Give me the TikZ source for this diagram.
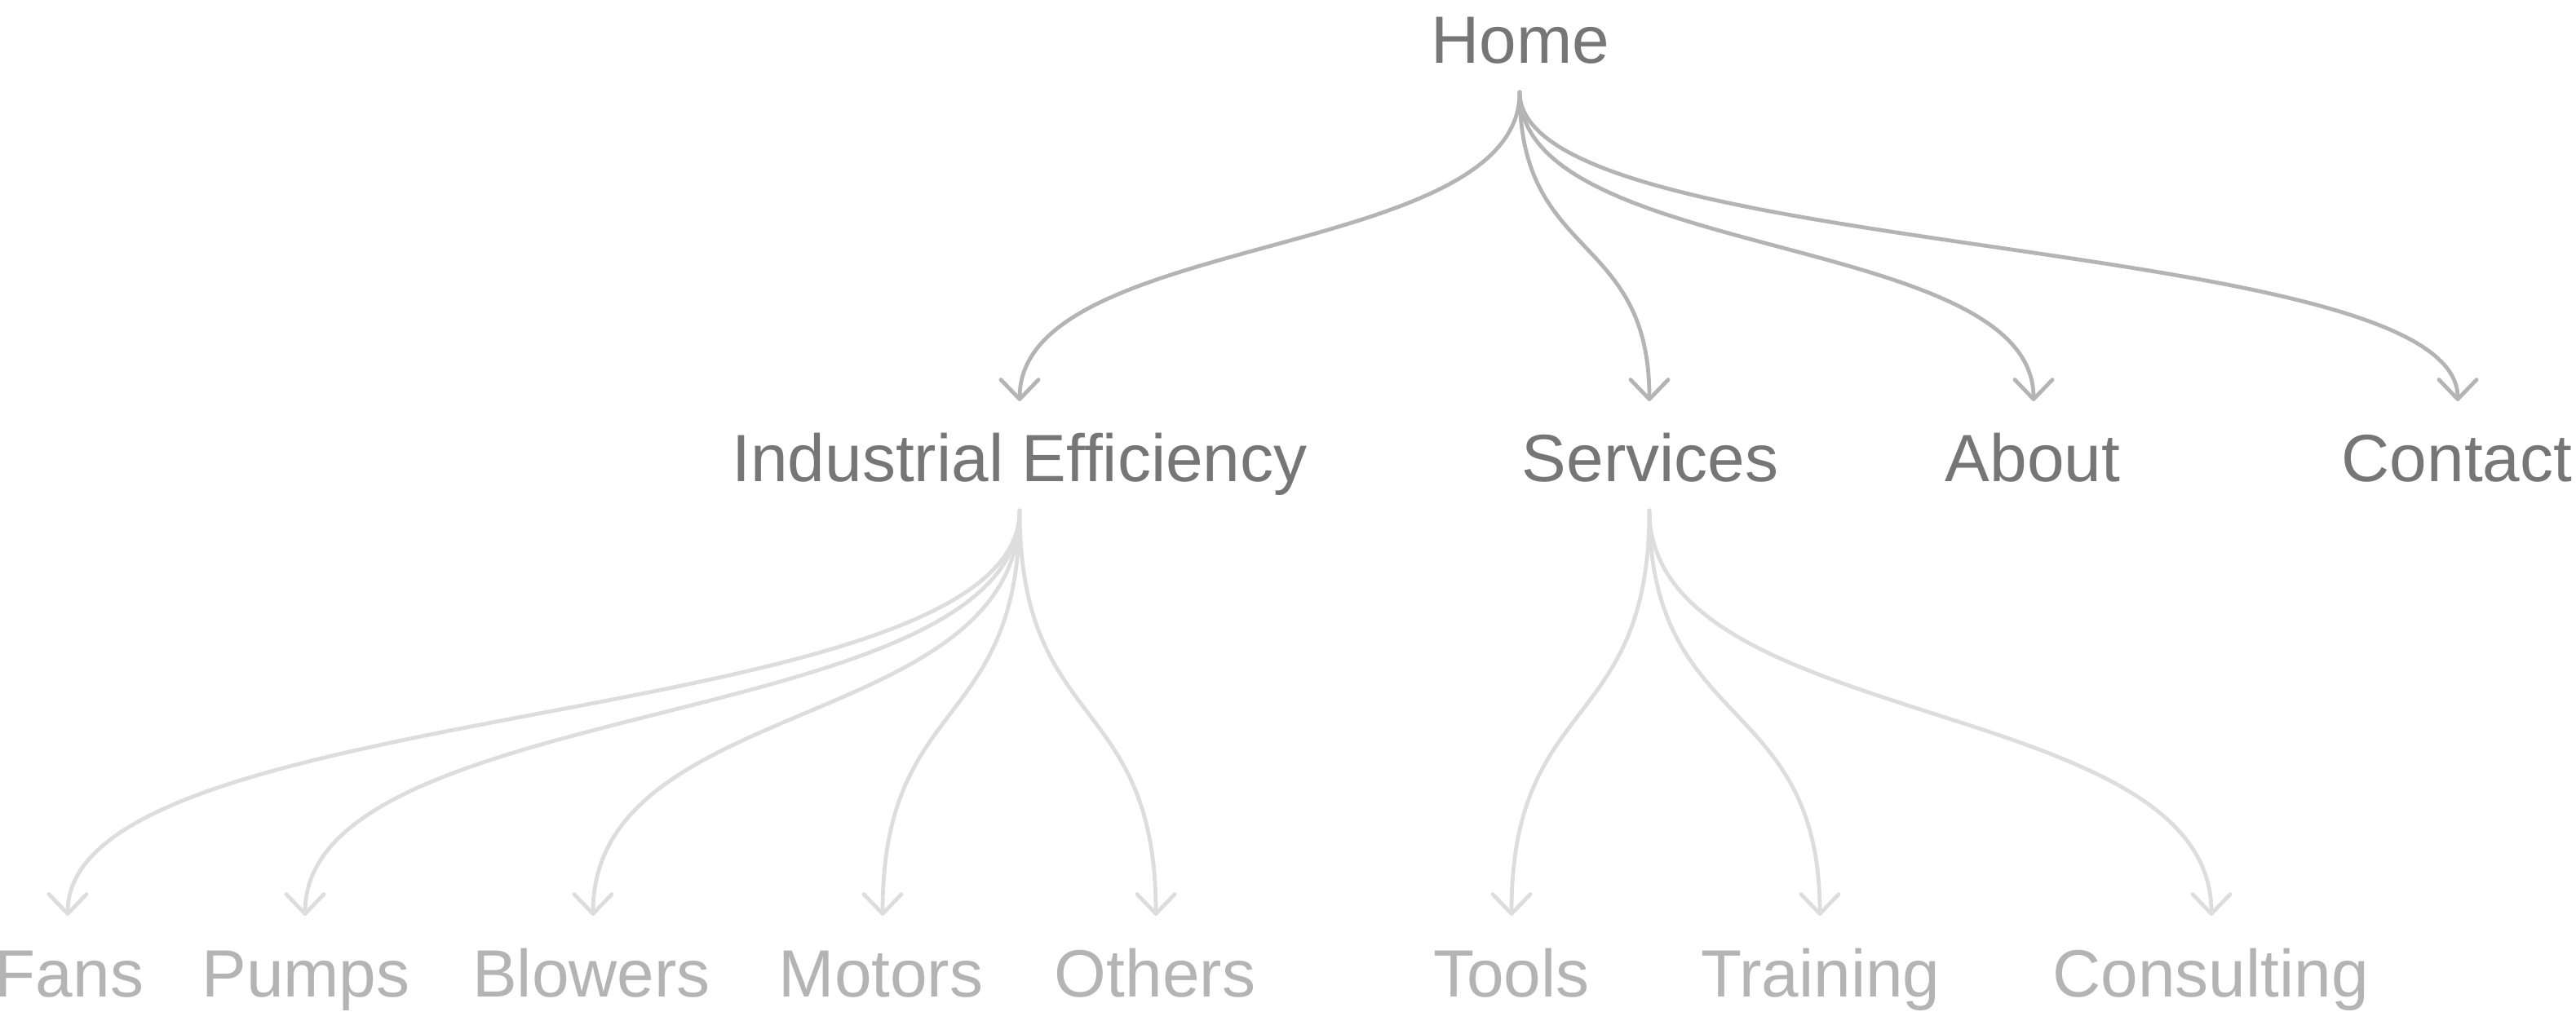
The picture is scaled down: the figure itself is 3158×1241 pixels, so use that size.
\documentclass[tikz,border=0pt]{standalone}
\usepackage{fontspec}
\setmainfont{Liberation Sans}
\usetikzlibrary{arrows.meta,calc}
\definecolor{txtdark}{HTML}{767676}
\definecolor{txtlight}{HTML}{B4B4B4}
\definecolor{arrdark}{HTML}{B4B4B4}
\definecolor{arrlight}{HTML}{DDDDDD}
\tikzset{
  lbl/.style={anchor=base, inner sep=0pt, font=\fontsize{82}{98}\selectfont},
  lvlone/.style={lbl, text=txtdark},
  lvltwo/.style={lbl, text=txtlight},
  conn/.style={line width=4.8pt, line cap=round, -{Straight Barb[length=24pt,width=46pt,line cap=round,line join=round]}},
  connA/.style={conn, draw=arrdark},
  connB/.style={conn, draw=arrlight},
}
\newcommand\linkcurve[3]{\draw[#3] (#1) .. controls ($(#1)!0.55!(#1|-#2)$) and ($(#2)!0.55!(#2|-#1)$) .. (#2);}
\begin{document}
\begin{tikzpicture}[x=1pt,y=-1pt]
\useasboundingbox (0,0) rectangle (3158,1241);
% level 0
\node[lvlone] (home) at (1864,78) {Home};
\coordinate (homeB) at (1863,113);
% level 1
\node[lvlone] (ie) at (1250,590) {Industrial Efficiency};
\node[lvlone] (serv) at (2023,590) {Services};
\node[lvlone] (about) at (2492,590) {About};
\node[lvlone] (contact) at (3012,590) {Contact};
\coordinate (ieT) at (1250,492);
\coordinate (servT) at (2022,492);
\coordinate (aboutT) at (2493,492);
\coordinate (contactT) at (3013,492);
\coordinate (ieB) at (1250,626);
\coordinate (servB) at (2022,626);
% level 2
\node[lvltwo] (fans) at (85,1222) {Fans};
\node[lvltwo] (pumps) at (375,1222) {Pumps};
\node[lvltwo] (blowers) at (725,1222) {Blowers};
\node[lvltwo] (motors) at (1080,1222) {Motors};
\node[lvltwo] (others) at (1416,1222) {Others};
\node[lvltwo] (tools) at (1853,1222) {Tools};
\node[lvltwo] (training) at (2232,1222) {Training};
\node[lvltwo] (consulting) at (2710,1222) {Consulting};
\foreach \n/\x in {fans/83,pumps/374,blowers/727,motors/1082,others/1417,tools/1853,training/2231,consulting/2711}
  \coordinate (\n T) at (\x,1123);
% connectors
\linkcurve{homeB}{ieT}{connA}
\linkcurve{homeB}{servT}{connA}
\linkcurve{homeB}{aboutT}{connA}
\linkcurve{homeB}{contactT}{connA}
\linkcurve{ieB}{fansT}{connB}
\linkcurve{ieB}{pumpsT}{connB}
\linkcurve{ieB}{blowersT}{connB}
\linkcurve{ieB}{motorsT}{connB}
\linkcurve{ieB}{othersT}{connB}
\linkcurve{servB}{toolsT}{connB}
\linkcurve{servB}{trainingT}{connB}
\linkcurve{servB}{consultingT}{connB}
\end{tikzpicture}
\end{document}
